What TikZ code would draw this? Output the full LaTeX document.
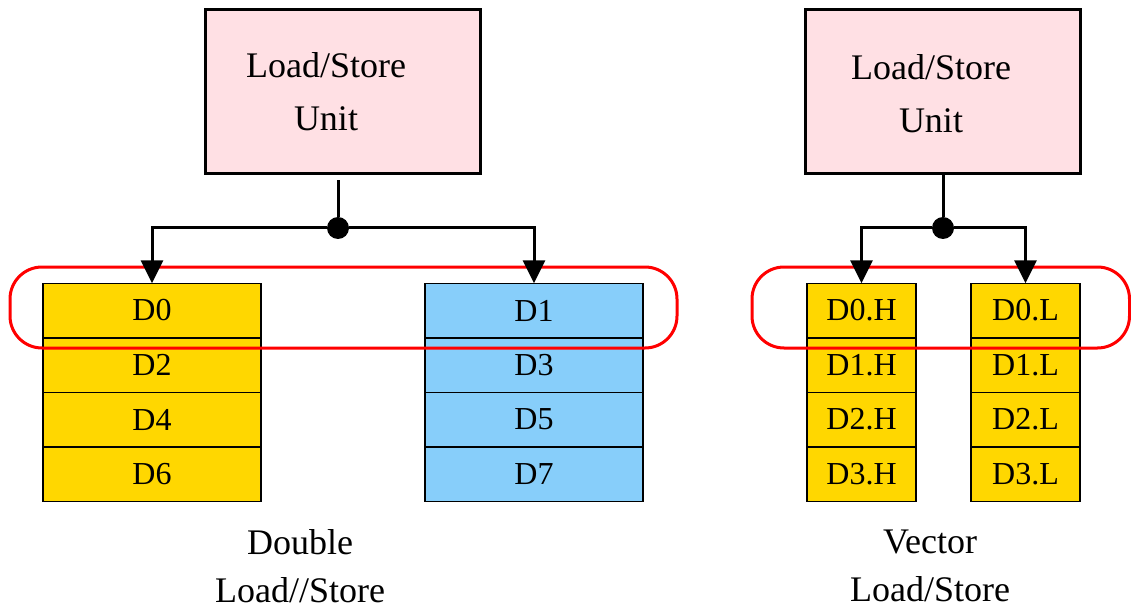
\documentclass[tikz,border=0pt]{standalone}
\usepackage{fontspec}
\setmainfont{Liberation Serif}
\usetikzlibrary{arrows.meta,positioning}
\definecolor{lsupink}{HTML}{FFE0E4}
\definecolor{reggold}{HTML}{FFD700}
\definecolor{regblue}{HTML}{87CEFA}

\begin{document}
\begin{tikzpicture}[x=0.5pt,y=-0.5pt,
  lsu/.style={draw,line width=1.5pt,fill=lsupink,minimum width=137.5pt,
    minimum height=82pt,inner sep=0pt},
  lsutext/.style={align=center,font=\fontsize{18}{26.5}\selectfont},
  reg/.style={draw,line width=0.75pt,fill=reggold,minimum width=109pt,
    minimum height=27.25pt,inner sep=0pt,outer sep=0pt,
    font=\fontsize{16}{19}\selectfont},
  half/.style={reg,minimum width=54.5pt},
  hi/.style={fill=regblue},
  dot/.style={circle,fill=black,minimum size=11pt,inner sep=0pt},
  conn/.style={line width=1.5pt},
  arr/.style={-{Triangle[length=11.5pt,width=11pt]},line width=1.5pt},
  ring/.style={draw=red,line width=1.5pt,rounded corners=16pt},
  caption/.style={align=center,font=\fontsize{18}{24}\selectfont}
]
\useasboundingbox (0,0) rectangle (1131,610);
% double load/store
\node[lsu] (lsuL) at (343,92) {};
\node[lsutext] (lsuLt) at (326,92) {Load/Store\\Unit};
\node[reg] (d0) at (152,310.5) {D0};
\node[reg,below=0pt of d0] (d2) {D2};
\node[reg,below=0pt of d2] (d4) {D4};
\node[reg,below=0pt of d4] (d6) {D6};
\node[reg,hi] (d1) at (534,310.5) {D1};
\node[reg,hi,below=0pt of d1] (d3) {D3};
\node[reg,hi,below=0pt of d3] (d5) {D5};
\node[reg,hi,below=0pt of d5] (d7) {D7};
\node[dot] (jL) at (338,228) {};
\draw[ring] (10,267) rectangle (677,348);
\draw[conn] (jL) -- ([yshift=-2.5pt]jL |- lsuL.south);
\draw[arr] (jL) -| (d0.north);
\draw[arr] (jL) -| (d1.north);
\node[caption] (capL) at (300,566) {Double\\Load//Store};
% vector load/store
\node[lsu] (lsuR) at (943,92) {};
\node[lsutext] (lsuRt) at (931,94) {Load/Store\\Unit};
\node[half] (d0h) at (861.5,310.5) {D0.H};
\node[half,below=0pt of d0h] (d1h) {D1.H};
\node[half,below=0pt of d1h] (d2h) {D2.H};
\node[half,below=0pt of d2h] (d3h) {D3.H};
\node[half] (d0l) at (1025.5,310.5) {D0.L};
\node[half,below=0pt of d0l] (d1l) {D1.L};
\node[half,below=0pt of d1l] (d2l) {D2.L};
\node[half,below=0pt of d2l] (d3l) {D3.L};
\node[dot] (jR) at (943,228) {};
\draw[ring] (752,267) rectangle (1129.5,348);
\draw[conn] (jR) -- (lsuR.south);
\draw[arr] (jR) -| (d0h.north);
\draw[arr] (jR) -| (d0l.north);
\node[caption] (capR) at (930,566) {Vector\\Load/Store};
\end{tikzpicture}
\end{document}
